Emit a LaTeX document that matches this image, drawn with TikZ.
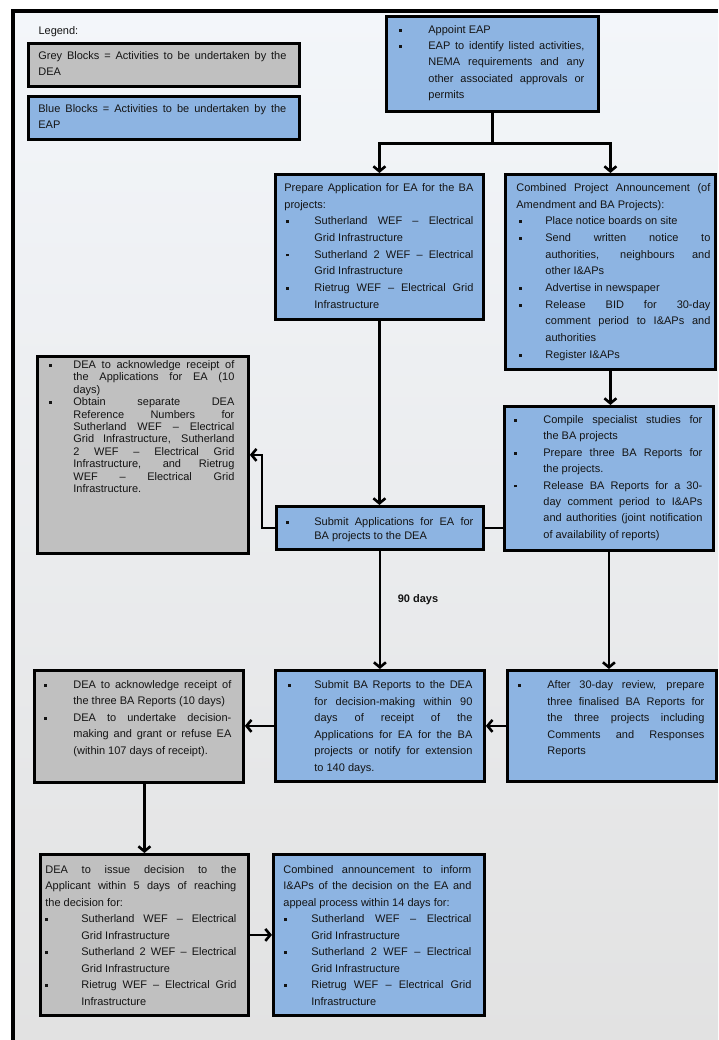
\documentclass[tikz,border=0pt]{standalone}
\usepackage{fontspec}
\setmainfont{Liberation Sans}
\usetikzlibrary{arrows.meta}
\definecolor{bluefill}{RGB}{141,180,226}
\definecolor{greyfill}{RGB}{192,192,192}
\definecolor{txt}{RGB}{20,20,20}
\definecolor{bgtop}{RGB}{243,246,250}
\definecolor{bgbot}{RGB}{226,226,226}
\newdimen\bulind \newdimen\buloff
\newcommand\itm[1]{\par\noindent\hangindent=\bulind\hangafter=1\makebox[\bulind][l]{\hspace*{\buloff}\rule[1.7pt]{2.7pt}{2.7pt}}#1\par}
\newcommand\bt[7]{\parbox[c][#2pt][t]{#1pt}{\fontsize{11}{#6}\selectfont\leftskip=#3pt\rightskip=#4pt\relax\hbox{}\vskip\dimexpr#5pt-\baselineskip\relax #7}}
\tikzset{
  box/.style={draw=black, line width=2.8pt, inner sep=0pt, anchor=north west, text=txt},
  bluebox/.style={box, fill=bluefill},
  greybox/.style={box, fill=greyfill},
  conn/.style={line width=2.6pt},
  arr/.style={line width=2.6pt, -{Straight Barb[length=5pt,width=12pt]}},
}
\begin{document}
\begin{tikzpicture}[x=1pt,y=-1pt]
\useasboundingbox (0,0) rectangle (718,1040);
\fill[white] (0,0) rectangle (718,1040);
\shade[top color=bgtop, bottom color=bgbot] (12,11) rectangle (718,1040);
\draw[line width=4pt] (12.5,1040) -- (12.5,11.5) -- (718,11.5);

\node[anchor=west, text=txt, font=\fontsize{11}{13}\selectfont] (leg) at (35,32) {Legend:};
\node[greybox] (legG) at (27,42) {\bt{271}{43}{10}{13}{16}{16}{Grey Blocks = Activities to be undertaken by the\linebreak DEA}};
\node[bluebox] (legB) at (27,95) {\bt{271}{43}{10}{13}{16}{16}{Blue Blocks = Activities to be undertaken by the\linebreak EAP}};

\node[bluebox] (app) at (385,15) {\bt{212}{95}{13}{14}{17}{16.25}{\bulind=29pt\buloff=0pt \itm{Appoint EAP}\itm{EAP to identify listed activities,\linebreak NEMA requirements and any\linebreak other associated approvals or\linebreak permits}}};

\node[bluebox] (prep) at (274,173) {\bt{208}{145}{9}{10}{17}{16.7}{\bulind=30pt\buloff=2pt Prepare Application for EA for the BA\linebreak projects:\itm{Sutherland WEF – Electrical\linebreak Grid Infrastructure}\itm{Sutherland 2 WEF – Electrical\linebreak Grid Infrastructure}\itm{Rietrug WEF – Electrical Grid\linebreak Infrastructure}}};

\node[bluebox] (comb) at (504,173) {\bt{210}{195}{11}{5}{17}{16.7}{\bulind=29pt\buloff=3pt Combined Project Announcement (of\linebreak Amendment and BA Projects):\itm{Place notice boards on site}\itm{Send written notice to\linebreak authorities, neighbours and\linebreak other I\&APs}\itm{Advertise in newspaper}\itm{Release BID for 30-day\linebreak comment period to I\&APs and\linebreak authorities}\itm{Register I\&APs}}};

\node[greybox] (g1) at (36,355) {\bt{211}{197}{12}{14}{12}{12.4}{\bulind=24pt\buloff=0pt \itm{DEA to acknowledge receipt of\linebreak the Applications for EA (10\linebreak days)}\itm{Obtain separate DEA\linebreak Reference Numbers for\linebreak Sutherland WEF – Electrical\linebreak Grid Infrastructure, Sutherland\linebreak 2 WEF – Electrical Grid\linebreak Infrastructure, and Rietrug\linebreak WEF – Electrical Grid\linebreak Infrastructure.}}};

\node[bluebox] (sub) at (275,505) {\bt{207}{43}{10}{10}{19}{14.3}{\bulind=28pt\buloff=0pt \itm{Submit Applications for EA for\linebreak BA projects to the DEA}}};

\node[bluebox] (comp) at (503,405) {\bt{209}{144}{10}{11}{17}{16.4}{\bulind=29pt\buloff=0pt \itm{Compile specialist studies for\linebreak the BA projects}\itm{Prepare three BA Reports for\linebreak the projects.}\itm{Release BA Reports for a 30-\linebreak day comment period to I\&APs\linebreak and authorities (joint notification\linebreak of availability of reports)}}};

\node[font=\bfseries\fontsize{11}{13}\selectfont, text=txt] (days) at (418,600) {90 days};

\node[bluebox] (sba) at (274,669) {\bt{209}{111}{13}{12}{18}{16.6}{\bulind=26pt\buloff=0pt \itm{Submit BA Reports to the DEA\linebreak for decision-making within 90\linebreak days of receipt of the\linebreak Applications for EA for the BA\linebreak projects or notify for extension\linebreak to 140 days.}}};

\node[bluebox] (after) at (506,669) {\bt{209}{111}{11}{12}{18}{16.6}{\bulind=29pt\buloff=0pt \itm{After 30-day review, prepare\linebreak three finalised BA Reports for\linebreak the three projects including\linebreak Comments and Responses\linebreak Reports}}};

\node[greybox] (g2) at (33,669) {\bt{209}{112}{10}{12}{18}{16.5}{\bulind=29pt\buloff=0pt \itm{DEA to acknowledge receipt of\linebreak the three BA Reports (10 days)}\itm{DEA to undertake decision-\linebreak making and grant or refuse EA\linebreak (within 107 days of receipt).}}};

\node[greybox] (g3) at (39,853) {\bt{208}{161}{5}{12}{19}{16.45}{\bulind=36pt\buloff=0pt DEA to issue decision to the\linebreak Applicant within 5 days of reaching\linebreak the decision for:\itm{Sutherland WEF – Electrical\linebreak Grid Infrastructure}\itm{Sutherland 2 WEF – Electrical\linebreak Grid Infrastructure}\itm{Rietrug WEF – Electrical Grid\linebreak Infrastructure}}};

\node[bluebox] (last) at (272,853) {\bt{211}{161}{10}{13}{19}{16.45}{\bulind=28pt\buloff=1pt Combined announcement to inform\linebreak I\&APs of the decision on the EA and\linebreak appeal process within 14 days for:\itm{Sutherland WEF – Electrical\linebreak Grid Infrastructure}\itm{Sutherland 2 WEF – Electrical\linebreak Grid Infrastructure}\itm{Rietrug WEF – Electrical Grid\linebreak Infrastructure}}};

\path (app.south) ++(0,31) coordinate (split);
\draw[conn] (app.south) -- (split);
\draw[arr] (split) -| (prep.north);
\draw[arr] (split) -| (comb.north);
\draw[arr] (prep.south) -- (prep.south |- sub.north);
\draw[arr] (comb.south) -- (comb.south |- comp.north);
\draw[conn] (sub.east) -- (sub.east -| comp.west);
\draw[arr] (sub.west) -- ++(-13,0) |- (g1.east);
\draw[arr] (sub.south) -- (sub.south |- sba.north);
\draw[arr] (comp.south) -- (comp.south |- after.north);
\draw[arr] (after.west) -- (after.west -| sba.east);
\draw[arr] (sba.west) -- (sba.west -| g2.east);
\draw[arr] (g3.north |- g2.south) -- (g3.north);
\draw[arr] (g3.east) -- (g3.east -| last.west);
\end{tikzpicture}
\end{document}
